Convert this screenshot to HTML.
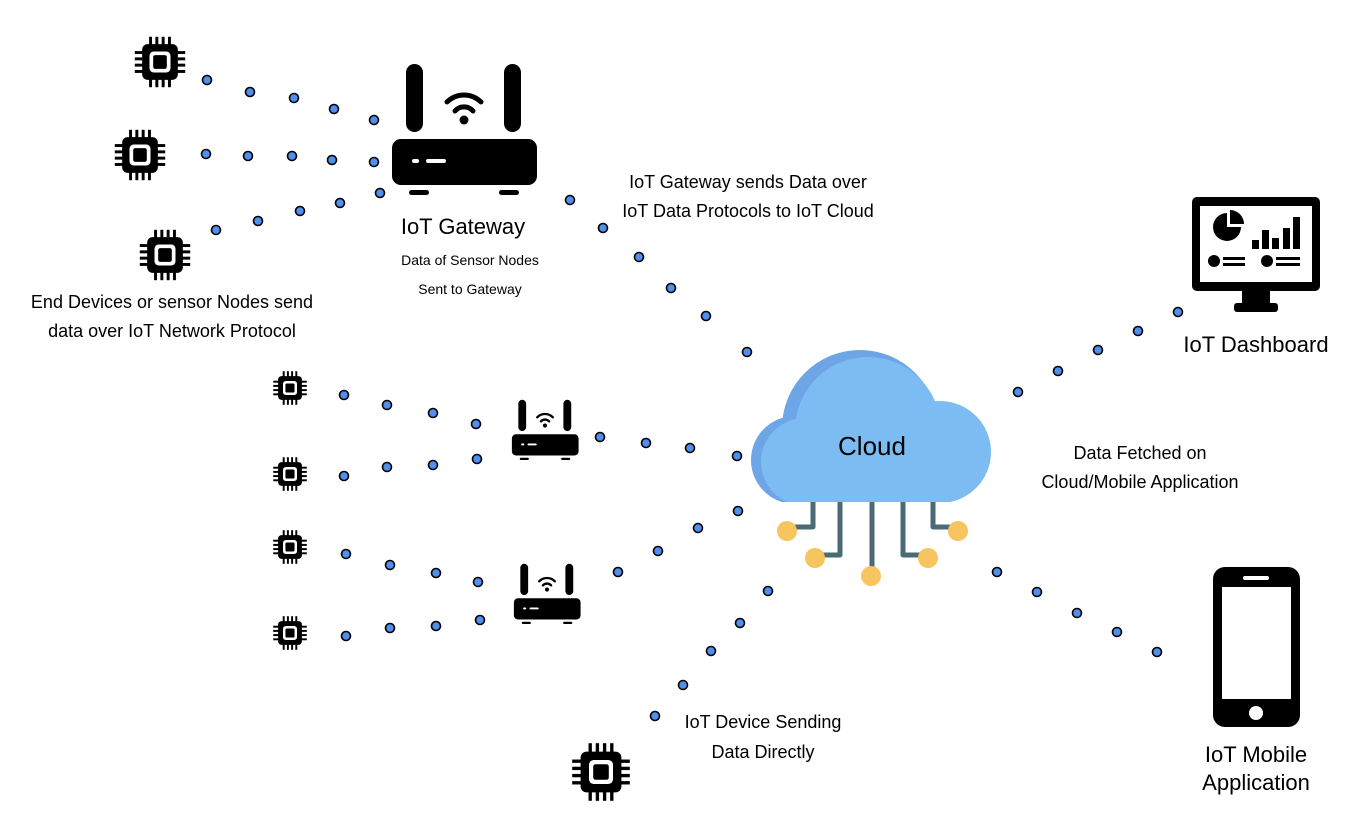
<!DOCTYPE html>
<html><head><meta charset="utf-8"><style>
html,body{margin:0;padding:0;background:#fff}
svg{display:block}
text{font-family:"Liberation Sans",sans-serif;fill:#000}
</style></head><body>
<svg width="1360" height="834" viewBox="0 0 1360 834" xmlns="http://www.w3.org/2000/svg">
<defs>
<g id="chip">
 <rect x="-17" y="-17" width="34" height="34" rx="5" fill="#000"/>
 <rect x="-10" y="-10" width="20" height="20" rx="4" fill="#fff"/>
 <rect x="-6.5" y="-6.5" width="13" height="13" rx="2" fill="#000"/>
 <g stroke="#000" stroke-width="2.8">
  <line x1="-9" y1="-16" x2="-9" y2="-24"/><line x1="-3" y1="-16" x2="-3" y2="-24"/><line x1="3" y1="-16" x2="3" y2="-24"/><line x1="9" y1="-16" x2="9" y2="-24"/>
  <line x1="-9" y1="16" x2="-9" y2="24"/><line x1="-3" y1="16" x2="-3" y2="24"/><line x1="3" y1="16" x2="3" y2="24"/><line x1="9" y1="16" x2="9" y2="24"/>
  <line y1="-9" x1="-16" y2="-9" x2="-24"/><line y1="-3" x1="-16" y2="-3" x2="-24"/><line y1="3" x1="-16" y2="3" x2="-24"/><line y1="9" x1="-16" y2="9" x2="-24"/>
  <line y1="-9" x1="16" y2="-9" x2="24"/><line y1="-3" x1="16" y2="-3" x2="24"/><line y1="3" x1="16" y2="3" x2="24"/><line y1="9" x1="16" y2="9" x2="24"/>
 </g>
</g>
<g id="router">
 <rect x="-58" y="-70" width="17" height="68" rx="8.5" fill="#000"/>
 <rect x="40" y="-70" width="17" height="68" rx="8.5" fill="#000"/>
 <path d="M-17,-32 A24,24 0 0 1 17,-32" fill="none" stroke="#000" stroke-width="5" stroke-linecap="round"/>
 <path d="M-9,-23 A12,12 0 0 1 9,-23" fill="none" stroke="#000" stroke-width="5" stroke-linecap="round"/>
 <circle cx="0" cy="-14" r="4.5" fill="#000"/>
 <rect x="-72" y="5" width="145" height="46" rx="9" fill="#000"/>
 <rect x="-52" y="25" width="7" height="4" rx="2" fill="#fff"/>
 <rect x="-38" y="25" width="20" height="4" rx="2" fill="#fff"/>
 <rect x="-55" y="56" width="20" height="5" rx="2.5" fill="#000"/>
 <rect x="35" y="56" width="20" height="5" rx="2.5" fill="#000"/>
</g>
<clipPath id="cc"><rect x="700" y="300" width="350" height="202"/></clipPath>
</defs>

<g fill="#4f8fee" stroke="#000" stroke-width="1.6">
<circle cx="207" cy="80" r="4.5"/><circle cx="250" cy="92" r="4.5"/><circle cx="294" cy="98" r="4.5"/><circle cx="334" cy="109" r="4.5"/><circle cx="374" cy="120" r="4.5"/>
<circle cx="206" cy="154" r="4.5"/><circle cx="248" cy="156" r="4.5"/><circle cx="292" cy="156" r="4.5"/><circle cx="332" cy="160" r="4.5"/><circle cx="374" cy="162" r="4.5"/>
<circle cx="216" cy="230" r="4.5"/><circle cx="258" cy="221" r="4.5"/><circle cx="300" cy="211" r="4.5"/><circle cx="340" cy="203" r="4.5"/><circle cx="380" cy="193" r="4.5"/>
<circle cx="570" cy="200" r="4.5"/><circle cx="603" cy="228" r="4.5"/><circle cx="639" cy="257" r="4.5"/><circle cx="671" cy="288" r="4.5"/><circle cx="706" cy="316" r="4.5"/><circle cx="747" cy="352" r="4.5"/>
<circle cx="344" cy="395" r="4.5"/><circle cx="387" cy="405" r="4.5"/><circle cx="433" cy="413" r="4.5"/><circle cx="476" cy="424" r="4.5"/>
<circle cx="344" cy="476" r="4.5"/><circle cx="387" cy="467" r="4.5"/><circle cx="433" cy="465" r="4.5"/><circle cx="477" cy="459" r="4.5"/>
<circle cx="600" cy="437" r="4.5"/><circle cx="646" cy="443" r="4.5"/><circle cx="690" cy="448" r="4.5"/><circle cx="737" cy="456" r="4.5"/>
<circle cx="346" cy="554" r="4.5"/><circle cx="390" cy="565" r="4.5"/><circle cx="436" cy="573" r="4.5"/><circle cx="478" cy="582" r="4.5"/>
<circle cx="346" cy="636" r="4.5"/><circle cx="390" cy="628" r="4.5"/><circle cx="436" cy="626" r="4.5"/><circle cx="480" cy="620" r="4.5"/>
<circle cx="618" cy="572" r="4.5"/><circle cx="658" cy="551" r="4.5"/><circle cx="698" cy="528" r="4.5"/><circle cx="738" cy="511" r="4.5"/>
<circle cx="655" cy="716" r="4.5"/><circle cx="683" cy="685" r="4.5"/><circle cx="711" cy="651" r="4.5"/><circle cx="740" cy="623" r="4.5"/><circle cx="768" cy="591" r="4.5"/>
<circle cx="1018" cy="392" r="4.5"/><circle cx="1058" cy="371" r="4.5"/><circle cx="1098" cy="350" r="4.5"/><circle cx="1138" cy="331" r="4.5"/><circle cx="1178" cy="312" r="4.5"/>
<circle cx="997" cy="572" r="4.5"/><circle cx="1037" cy="592" r="4.5"/><circle cx="1077" cy="613" r="4.5"/><circle cx="1117" cy="632" r="4.5"/><circle cx="1157" cy="652" r="4.5"/>
</g>

<use href="#chip" transform="translate(160,62) scale(1.05)"/>
<use href="#chip" transform="translate(140,155) scale(1.05)"/>
<use href="#chip" transform="translate(165,255) scale(1.05)"/>
<use href="#chip" transform="translate(290,388) scale(0.7)"/>
<use href="#chip" transform="translate(290,474) scale(0.7)"/>
<use href="#chip" transform="translate(290,547) scale(0.7)"/>
<use href="#chip" transform="translate(290,633) scale(0.7)"/>
<use href="#chip" transform="translate(601,772) scale(1.2)"/>

<use href="#router" transform="translate(464,134)"/>
<use href="#router" transform="translate(545,432) scale(0.46)"/>
<use href="#router" transform="translate(547,596) scale(0.46)"/>

<!-- cloud -->
<g fill="none" stroke="#4a6b73" stroke-width="5" stroke-linejoin="round">
<path d="M813,495 V527 H790"/>
<path d="M840,495 V555 H818"/>
<path d="M872,495 V575"/>
<path d="M903,495 V555 H925"/>
<path d="M933,495 V527 H955"/>
</g>
<g fill="#f7c55f">
<circle cx="787" cy="531" r="10"/><circle cx="815" cy="558" r="10"/><circle cx="871" cy="576" r="10"/><circle cx="928" cy="558" r="10"/><circle cx="958" cy="531" r="10"/>
</g>
<g clip-path="url(#cc)">
 <g fill="#6da5e6">
  <circle cx="795" cy="460" r="44"/>
  <circle cx="860" cy="428" r="78"/>
  <rect x="795" y="440" width="150" height="70"/>
 </g>
 <g fill="#7dbbf3">
  <circle cx="805" cy="462" r="44"/>
  <circle cx="868" cy="430" r="73"/>
  <circle cx="940" cy="452" r="51"/>
  <rect x="805" y="440" width="140" height="70"/>
 </g>
</g>
<text x="872" y="455" font-size="26" text-anchor="middle">Cloud</text>

<!-- dashboard -->
<rect x="1192" y="197" width="128" height="94" rx="5" fill="#000"/>
<rect x="1200" y="206" width="112" height="76" fill="#fff"/>
<rect x="1242" y="290" width="28" height="13" fill="#000"/>
<rect x="1234" y="303" width="44" height="9" rx="3" fill="#000"/>
<path d="M1227,213 A14,14 0 1 0 1241,227 L1227,227 Z" fill="#000"/>
<path d="M1230,210 A14,14 0 0 1 1244,224 L1230,224 Z" fill="#000"/>
<rect x="1252" y="240" width="7" height="9" fill="#000"/><rect x="1262" y="230" width="7" height="19" fill="#000"/><rect x="1272" y="238" width="7" height="11" fill="#000"/><rect x="1283" y="228" width="7" height="21" fill="#000"/><rect x="1293" y="217" width="7" height="32" fill="#000"/>
<circle cx="1214" cy="261" r="6" fill="#000"/><rect x="1223" y="257" width="22" height="3" fill="#000"/><rect x="1223" y="263" width="22" height="3" fill="#000"/>
<circle cx="1267" cy="261" r="6" fill="#000"/><rect x="1276" y="257" width="24" height="3" fill="#000"/><rect x="1276" y="263" width="24" height="3" fill="#000"/>

<!-- phone -->
<rect x="1213" y="567" width="87" height="160" rx="12" fill="#000"/>
<rect x="1222" y="587" width="69" height="112" fill="#fff"/>
<rect x="1243" y="576" width="26" height="4" rx="2" fill="#fff"/>
<circle cx="1256" cy="713" r="7" fill="#fff"/>

<text x="463" y="234" font-size="22" text-anchor="middle">IoT Gateway</text>
<text x="470" y="265" font-size="14" text-anchor="middle">Data of Sensor Nodes</text>
<text x="470" y="294" font-size="14" text-anchor="middle">Sent to Gateway</text>
<text x="172" y="308" font-size="18" text-anchor="middle">End Devices or sensor Nodes send</text>
<text x="172" y="337" font-size="18" text-anchor="middle">data over IoT Network Protocol</text>
<text x="748" y="188" font-size="18" text-anchor="middle">IoT Gateway sends Data over</text>
<text x="748" y="217" font-size="18" text-anchor="middle">IoT Data Protocols to IoT Cloud</text>
<text x="1256" y="352" font-size="22" text-anchor="middle">IoT Dashboard</text>
<text x="1140" y="459" font-size="18" text-anchor="middle">Data Fetched on</text>
<text x="1140" y="488" font-size="18" text-anchor="middle">Cloud/Mobile Application</text>
<text x="763" y="728" font-size="18" text-anchor="middle">IoT Device Sending</text>
<text x="763" y="758" font-size="18" text-anchor="middle">Data Directly</text>
<text x="1256" y="762" font-size="22" text-anchor="middle">IoT Mobile</text>
<text x="1256" y="790" font-size="22" text-anchor="middle">Application</text>
</svg>
</body></html>
